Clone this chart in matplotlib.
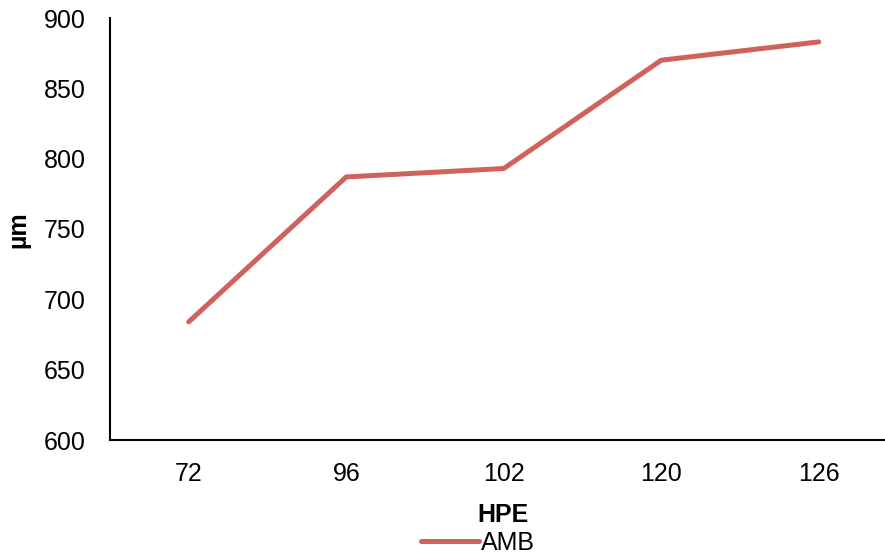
import matplotlib
matplotlib.use("Agg")
import matplotlib.pyplot as plt

categories = ["72", "96", "102", "120", "126"]
amb = [684, 787, 793, 870, 883]
yticks = [600, 650, 700, 750, 800, 850, 900]

plt.rcParams["font.family"] = ["Liberation Sans", "DejaVu Sans"]

fig = plt.figure(figsize=(8.85, 5.59), dpi=100)
ax = fig.add_axes([110 / 885, 1 - 440 / 559, 787.5 / 885, 422 / 559])

x = range(len(categories))
line, = ax.plot(x, amb, color="#D0625C", linewidth=3.6,
                solid_capstyle="round", solid_joinstyle="round", label="AMB")

ax.set_xlim(-0.5, len(categories) - 0.5)
ax.set_ylim(600, 900)
ax.set_yticks(yticks)
ax.set_xticks(list(x))
ax.set_xticklabels(categories)
ax.tick_params(axis="both", length=0, labelsize=18, colors="black")
ax.tick_params(axis="y", pad=17.5)
ax.tick_params(axis="x", pad=16)

for side in ("top", "right"):
    ax.spines[side].set_visible(False)
for side in ("left", "bottom"):
    ax.spines[side].set_linewidth(1.5)
    ax.spines[side].set_color("black")

fig.text(503 / 885, 1 - 515 / 559, "HPE", ha="center", va="center",
         fontsize=18, fontweight="bold")
fig.text(18 / 885, 1 - 230 / 559, "µm", ha="center", va="center",
         fontsize=18, fontweight="bold", rotation=90)

fig.legend(handles=[line], loc="center", bbox_to_anchor=(478 / 885, 1 - 543 / 559),
           frameon=False, fontsize=18, handlelength=2.3, handletextpad=0.1,
           borderpad=0, borderaxespad=0)

fig.savefig("out.png", dpi=100)
